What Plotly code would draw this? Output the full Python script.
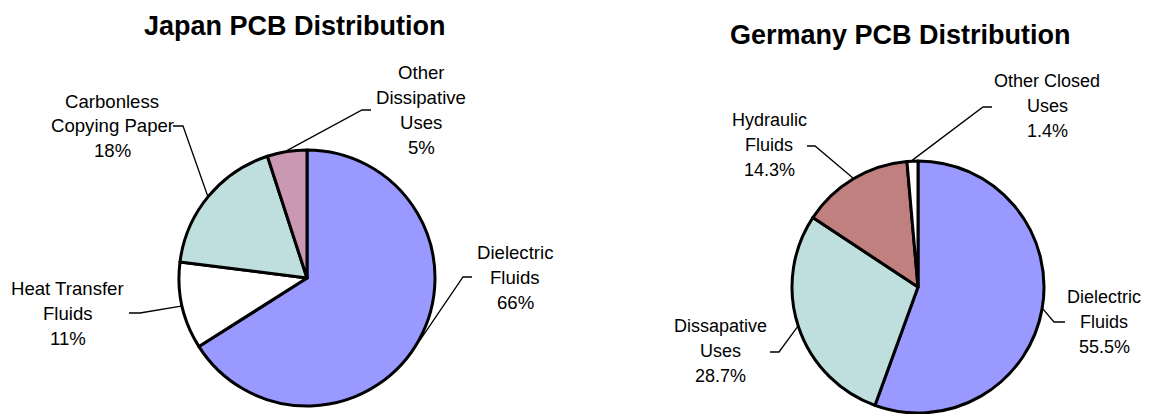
import math
import plotly.graph_objects as go

W, H = 1159, 414
OFF = 8  # default body margin of the html page
FW, FH = W - OFF, H - OFF

# ---------------- data ----------------
japan_categories = ["Dielectric Fluids", "Heat Transfer Fluids",
                    "Carbonless Copying Paper", "Other Dissipative Uses"]
japan_label_lines = [["Dielectric", "Fluids"], ["Heat Transfer", "Fluids"],
                     ["Carbonless", "Copying Paper"], ["Other", "Dissipative", "Uses"]]
japan_values = [66, 11, 18, 5]

germany_categories = ["Dielectric Fluids", "Dissapative Uses",
                      "Hydraulic Fluids", "Other Closed Uses"]
germany_label_lines = [["Dielectric", "Fluids"], ["Dissapative", "Uses"],
                       ["Hydraulic", "Fluids"], ["Other Closed", "Uses"]]
germany_values = [55.5, 28.7, 14.3, 1.4]

# ---------------- style / layout ----------------
japan_colors = ["#9999FF", "#FFFFFF", "#BFDFDF", "#CA98B2"]
germany_colors = ["#9999FF", "#BFDFDF", "#C08080", "#FFFFFF"]

FONT = "Arial, Liberation Sans, sans-serif"
LINE_H = 25

pies = [
    dict(title="Japan PCB Distribution", title_xy=(295, 26),
         cats=japan_categories, lines=japan_label_lines, vals=japan_values,
         fmt="{:.0f}%", colors=japan_colors, center=(307, 278), r=128, fsize=18.6,
         # label centre, elbow, end of leader (page pixels)
         labels=[((515, 277), (463, 277), (472, 277)),
                 ((68, 313), (140, 313), (129, 313)),
                 ((112, 126), (183, 126), (173, 126)),
                 ((421, 110), (362, 110), (371, 110))]),
    dict(title="Germany PCB Distribution", title_xy=(900, 35),
         cats=germany_categories, lines=germany_label_lines, vals=germany_values,
         fmt="{:.1f}%", colors=germany_colors, center=(918, 287), r=126, fsize=18,
         labels=[((1104, 322), (1054, 322), (1065, 322)),
                 ((720, 351), (779, 352), (770, 352)),
                 ((769, 145), (815, 146), (807, 146)),
                 ((1047, 106), (983, 107), (992, 107))]),
]


def px(x):
    return (x - OFF) / FW


def py(y):
    return 1 - (y - OFF) / FH


fig = go.Figure()
annotations = []
shapes = []

for p in pies:
    cx, cy = p["center"]
    r = p["r"]
    fig.add_trace(go.Pie(
        labels=p["cats"], values=p["vals"], sort=False, direction="clockwise",
        rotation=0, textinfo="none", hoverinfo="label+percent",
        marker=dict(colors=p["colors"], line=dict(color="black", width=3)),
        domain=dict(x=[px(cx - r), px(cx + r)], y=[py(cy + r), py(cy - r)]),
        showlegend=False,
    ))
    annotations.append(dict(
        text="<b>" + p["title"] + "</b>", x=px(p["title_xy"][0]), y=py(p["title_xy"][1]),
        xref="paper", yref="paper", xanchor="center", yanchor="middle",
        showarrow=False, font=dict(family=FONT, size=27, color="black")))
    total = sum(p["vals"])
    cum = 0
    for v, lines, (lab, elbow, end) in zip(p["vals"], p["lines"], p["labels"]):
        a = 2 * math.pi * (cum + v / 2) / total
        cum += v
        sx = cx + (r + 1) * math.sin(a)
        sy = cy - (r + 1) * math.cos(a)
        all_lines = lines + [p["fmt"].format(v)]
        n = len(all_lines)
        for i, t in enumerate(all_lines):
            ly = lab[1] + (i - (n - 1) / 2) * LINE_H
            annotations.append(dict(
                text=t, x=px(lab[0]), y=py(ly), xref="paper", yref="paper",
                xanchor="center", yanchor="middle", align="center", showarrow=False,
                font=dict(family=FONT, size=p["fsize"], color="black")))
        path = "M {} {} L {} {} L {} {}".format(px(sx), py(sy), px(elbow[0]), py(elbow[1]),
                                               px(end[0]), py(end[1]))
        shapes.append(dict(type="path", path=path, xref="paper", yref="paper",
                           line=dict(color="black", width=1.3)))

fig.update_layout(
    width=FW, height=FH, margin=dict(l=0, r=0, t=0, b=0),
    paper_bgcolor="white", plot_bgcolor="white",
    annotations=annotations, shapes=shapes,
    font=dict(family=FONT, color="black"),
)

fig.write_html("out.html")
